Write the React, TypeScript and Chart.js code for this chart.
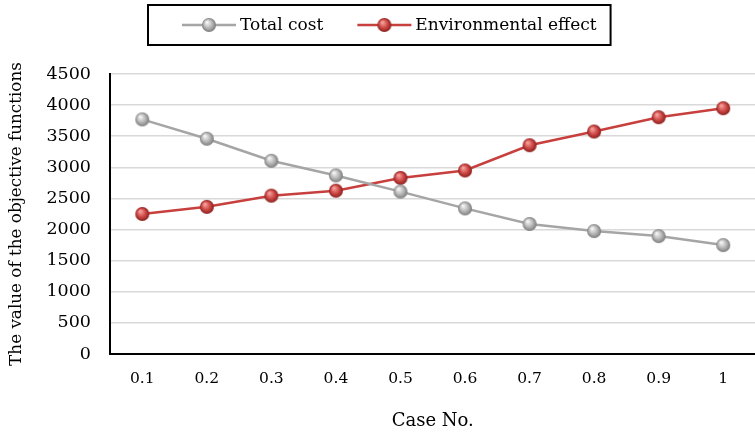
import React, { useEffect, useRef } from "react";
import { Chart, registerables } from "chart.js";

Chart.register(...registerables);

// Case numbers on the horizontal axis
const caseLabels = ["0.1", "0.2", "0.3", "0.4", "0.5", "0.6", "0.7", "0.8", "0.9", "1"];

// Objective function values per case
const totalCost = [3770, 3460, 3105, 2870, 2610, 2340, 2090, 1975, 1895, 1750];
const environmentalEffect = [2250, 2365, 2545, 2625, 2830, 2950, 3355, 3575, 3805, 3950];

// Value axis range
const yMin = 0;
const yMax = 4500;
const yStep = 500;

const SERIF = "'DejaVu Serif', serif";
const GREY_LINE = "#a5a5a5";
const RED_LINE = "#c8403e";

// Shaded ball used as the point marker
function makeSphere(r: number, light: string, mid: string, dark: string): HTMLCanvasElement {
  const size = Math.ceil(r * 2) + 2;
  const c = document.createElement("canvas");
  c.width = size;
  c.height = size;
  const ctx = c.getContext("2d")!;
  const cx = size / 2;
  const cy = size / 2;
  const g = ctx.createRadialGradient(cx - r * 0.3, cy - r * 0.4, r * 0.08, cx, cy, r);
  g.addColorStop(0, light);
  g.addColorStop(0.55, mid);
  g.addColorStop(1, dark);
  ctx.fillStyle = g;
  ctx.beginPath();
  ctx.arc(cx, cy, r, 0, Math.PI * 2);
  ctx.fill();
  return c;
}

// Framed legend with a line-and-ball icon per series
const boxedLegend = {
  id: "boxedLegend",
  afterDraw(chart: any) {
    const ctx: CanvasRenderingContext2D = chart.ctx;
    const datasets = chart.data.datasets;
    const boxLeft = 148;
    const boxTop = 5;
    const boxH = 40;
    const padL = 34;
    const padR = 14;
    const iconW = 54;
    const gap = 4;
    const itemGap = 34;
    ctx.save();
    ctx.font = `17px ${SERIF}`;
    const widths = datasets.map((d: any) => ctx.measureText(d.label).width);
    let content = 0;
    widths.forEach((w: number, i: number) => {
      content += iconW + gap + w + (i > 0 ? itemGap : 0);
    });
    const boxW = padL + content + padR;
    const cy = boxTop + boxH / 2;

    ctx.strokeStyle = "#000";
    ctx.lineWidth = 2;
    ctx.strokeRect(boxLeft, boxTop, boxW, boxH);

    let x = boxLeft + padL;
    datasets.forEach((d: any, i: number) => {
      ctx.strokeStyle = d.borderColor;
      ctx.lineWidth = d.borderWidth;
      ctx.beginPath();
      ctx.moveTo(x, cy);
      ctx.lineTo(x + iconW, cy);
      ctx.stroke();
      const img = d.pointStyle as HTMLCanvasElement;
      ctx.drawImage(img, x + iconW / 2 - img.width / 2, cy - img.height / 2);
      x += iconW + gap;
      ctx.fillStyle = "#000";
      ctx.textAlign = "left";
      ctx.textBaseline = "middle";
      ctx.fillText(d.label, x, cy + 1);
      x += widths[i] + itemGap;
    });
    ctx.restore();
  },
};

export default function App() {
  const ref = useRef<HTMLCanvasElement>(null);

  useEffect(() => {
    const greyBall = makeSphere(7, "#f6f6f6", "#b8b8b8", "#7c7c7c");
    const redBall = makeSphere(7, "#f5a3a0", "#cf4a47", "#8a1f1d");

    const chart = new Chart(ref.current!, {
      type: "line",
      data: {
        labels: caseLabels,
        datasets: [
          {
            label: "Total cost",
            data: totalCost,
            borderColor: GREY_LINE,
            borderWidth: 2.5,
            pointStyle: greyBall as any,
            pointRadius: 7,
            tension: 0,
          },
          {
            label: "Environmental effect",
            data: environmentalEffect,
            borderColor: RED_LINE,
            borderWidth: 2.5,
            pointStyle: redBall as any,
            pointRadius: 7,
            tension: 0,
          },
        ],
      },
      options: {
        animation: false,
        responsive: true,
        maintainAspectRatio: false,
        layout: { padding: { top: 74, left: 0, right: 0, bottom: 0 } },
        plugins: {
          legend: { display: false },
          tooltip: { enabled: false },
        },
        scales: {
          x: {
            offset: true,
            grid: { display: false, drawTicks: false },
            border: { display: true, color: "#000", width: 2 },
            ticks: {
              color: "#000",
              font: { family: SERIF, size: 15.5 },
              padding: 16,
              maxRotation: 0,
            },
            title: {
              display: true,
              text: "Case No.",
              color: "#000",
              font: { family: SERIF, size: 18 },
              padding: { top: 2, bottom: 2 },
            },
            afterFit: (s: any) => {
              s.height = 80;
            },
          },
          y: {
            min: yMin,
            max: yMax,
            ticks: {
              stepSize: yStep,
              color: "#000",
              font: { family: SERIF, size: 17.5 },
              padding: 19,
              callback: (v: any) => String(v),
            },
            grid: { color: "#d9d9d9", lineWidth: 1.5, drawTicks: false },
            border: { color: "#000", width: 2 },
            title: {
              display: true,
              text: "The value of the objective functions",
              color: "#000",
              font: { family: SERIF, size: 16.8 },
              padding: { top: 7, bottom: 0 },
            },
            afterFit: (s: any) => {
              s.width = 110;
            },
          },
        },
      },
      plugins: [boxedLegend],
    });

    return () => chart.destroy();
  }, []);

  return (
    <div
      style={{
        position: "fixed",
        left: 0,
        top: 0,
        width: 755,
        height: 434,
        overflow: "hidden",
        background: "#fff",
      }}
    >
      <div style={{ position: "relative", width: 765, height: 434 }}>
        <canvas ref={ref} />
      </div>
    </div>
  );
}
